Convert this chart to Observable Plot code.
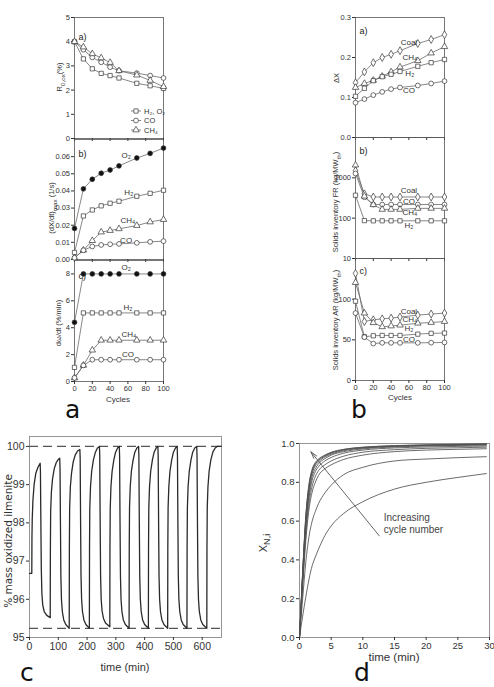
<!DOCTYPE html>
<html><head><meta charset="utf-8">
<script src="https://cdn.jsdelivr.net/npm/d3@7"></script>
<script src="https://cdn.jsdelivr.net/npm/@observablehq/plot@0.6"></script>
<style>
html,body{margin:0;padding:0;background:#fff;}
#fig{position:relative;width:494px;height:687px;overflow:hidden;background:#fff;font-family:'Liberation Sans Narrow','Liberation Sans',Arial,sans-serif;color:#333;}
.t{position:absolute;white-space:nowrap;line-height:1;}
.rot{transform:translate(-50%,-50%) rotate(-90deg);}
.ctr{transform:translate(-50%,-50%);}
.big{position:absolute;font-family:'DejaVu Sans',Verdana,sans-serif;font-size:25px;line-height:1;color:#111;}
</style></head><body><div id="fig"></div>
<script>
// ---------- data ----------
const cycles = [0, 10, 20, 30, 40, 50, 70, 85, 100];

const a1H2O2 = [4.0, 3.29, 2.88, 2.69, 2.6, 2.5, 2.28, 2.18, 2.07];
const a1CO   = [4.0, 3.67, 3.35, 3.15, 2.95, 2.8, 2.7, 2.6, 2.5];
const a1CH4  = [4.0, 3.78, 3.5, 3.33, 3.14, 2.8, 2.62, 2.4, 2.14];
const a2O2  = [0.0181, 0.0412, 0.0468, 0.0503, 0.0522, 0.0546, 0.0592, 0.0619, 0.065];
const a2H2  = [0.0041, 0.0254, 0.0289, 0.0313, 0.0328, 0.034, 0.0369, 0.0386, 0.0404];
const a2CH4 = [0.001, 0.0054, 0.011, 0.016, 0.0169, 0.0179, 0.0198, 0.0219, 0.0233];
const a2CO  = [0.001, 0.0054, 0.0076, 0.0085, 0.0089, 0.0091, 0.0097, 0.0103, 0.0107];
const a3O2  = [4.4, 8, 8, 8, 8, 8, 8, 8, 8];
const a3H2  = [1.05, 5.1, 5.1, 5.1, 5.1, 5.1, 5.1, 5.1, 5.1];
const a3CH4 = [0.27, 1.2, 2.33, 3.07, 3.07, 3.07, 3.07, 3.07, 3.07];
const a3CO  = [0.27, 1.2, 1.62, 1.62, 1.62, 1.62, 1.62, 1.62, 1.62];
const b1Coal = [0.137, 0.164, 0.187, 0.2, 0.208, 0.217, 0.235, 0.245, 0.257];
const b1CH4  = [0.125, 0.135, 0.143, 0.153, 0.164, 0.176, 0.192, 0.211, 0.227];
const b1H2   = [0.103, 0.123, 0.142, 0.152, 0.158, 0.165, 0.178, 0.187, 0.195];
const b1CO   = [0.087, 0.096, 0.106, 0.114, 0.121, 0.125, 0.13, 0.135, 0.141];
const b2Coal = [1500, 400, 335, 335, 335, 335, 335, 335, 335];
const b2CO   = [1280, 330, 218, 218, 218, 218, 218, 218, 218];
const b2CH4  = [2070, 350, 215, 165, 165, 165, 175, 175, 175];
const b2H2   = [370, 87, 86, 86, 86, 86, 86, 86, 86];
const b3Coal = [131.7, 72.5, 74.6, 75.8, 76.7, 78, 80.4, 81.7, 82.9];
const b3CH4  = [120.4, 82.9, 71, 66, 67, 68, 70.4, 71.3, 72.5];
const b3H2   = [97.5, 53.8, 55, 55.4, 55.4, 55.4, 57, 58, 58.3];
const b3CO   = [82.9, 53.3, 45.4, 46.3, 46.3, 46.3, 46.3, 46.5, 46.8];

const a2Labels = [{t:"O₂", c:58, v:0.0605},{t:"H₂", c:61, v:0.039},{t:"CH₄", c:60, v:0.0227},{t:"CO", c:58, v:0.0114}];
const a3Labels = [{t:"O₂", c:58, v:8.5},{t:"H₂", c:60, v:5.5},{t:"CH₄", c:61, v:3.5},{t:"CO", c:60, v:2.0}];
const b1Labels = [{t:"Coal", c:60, v:0.238},{t:"CH₄", c:61, v:0.2},{t:"H₂", c:61, v:0.161},{t:"CO", c:60, v:0.117}];
const b2Labels = [{t:"Coal", c:60, v:500},{t:"CO", c:60, v:262},{t:"CH₄", c:61, v:138},{t:"H₂", c:60, v:66}];
const b3Labels = [{t:"Coal", c:60, v:85},{t:"CH₄", c:61, v:75},{t:"H₂", c:60, v:63.5},{t:"CO", c:60, v:51}];

const cTime = [0,8,8.5,9.5,12,16,22,29,37, 38,39.5,41,43,46,51,60,72,
  72.5,73.5,76,80,86,93,99,105, 106,107.5,109,111,114,119,126,138,
  138.5,139.5,142,146,152,159,167,175, 176,177.5,179,181,184,189,196,208,
  208.5,209.5,212,216,222,229,236,243, 244,245.5,247,249,252,257,264,279,
  279.5,280.5,283,287,293,299,306,312, 313,314.5,316,318,321,326,333,346,
  346.5,347.5,350,354,360,366,373,379, 380,381.5,383,385,388,393,400,413,
  413.5,414.5,417,421,427,433,440,446, 447,448.5,450,452,455,460,467,480,
  480.5,481.5,484,488,494,500,507,513, 514,515.5,517,519,522,527,534,547,
  547.5,548.5,551,555,561,567,574,581, 582,583.5,585,587,590,595,602,616,
  616.5,617.5,620,624,630,637,645,652,666];
const cMass = [96.68,96.68,97.6,98.1,98.6,99.0,99.3,99.45,99.56, 99.35,98.0,96.8,96.15,95.85,95.68,95.58,95.52,
  97.2,98.3,98.8,99.15,99.42,99.58,99.65,99.69, 99.45,98.0,96.6,96.0,95.68,95.46,95.34,95.24,
  97.3,98.4,98.95,99.3,99.6,99.78,99.88,99.92, 99.7,98.0,96.6,96.0,95.68,95.46,95.34,95.24,
  97.3,98.4,98.95,99.35,99.65,99.85,99.96,100, 99.75,98.0,96.6,96.0,95.7,95.5,95.38,95.28,
  97.3,98.4,98.95,99.35,99.65,99.85,99.96,100, 99.75,98.0,96.6,96.0,95.68,95.46,95.34,95.24,
  97.3,98.4,98.95,99.35,99.65,99.85,99.96,100, 99.75,98.0,96.6,96.0,95.68,95.46,95.34,95.24,
  97.3,98.4,98.95,99.35,99.65,99.85,99.96,100, 99.75,98.0,96.6,96.0,95.68,95.46,95.34,95.24,
  97.3,98.4,98.95,99.35,99.65,99.85,99.96,100, 99.75,98.0,96.6,96.0,95.68,95.46,95.34,95.24,
  97.3,98.4,98.95,99.35,99.65,99.85,99.96,100, 99.75,98.0,96.6,96.0,95.68,95.46,95.34,95.24,
  97.3,98.4,98.95,99.35,99.65,99.85,99.96,100,100];
const cLimits = [100, 95.24];

const dTime = [0,0.5,1,1.5,2,2.5,3,4,5,7,10,15,20,25,29.5];
const dCurves = [
  [0,0.11,0.21,0.30,0.37,0.415,0.455,0.525,0.575,0.64,0.70,0.765,0.80,0.825,0.845],
  [0,0.20,0.39,0.52,0.60,0.65,0.69,0.745,0.785,0.84,0.877,0.91,0.92,0.927,0.932],
  [0,0.26,0.50,0.66,0.75,0.80,0.835,0.87,0.89,0.918,0.94,0.958,0.966,0.97,0.973],
  [0,0.28,0.53,0.69,0.78,0.83,0.86,0.89,0.91,0.935,0.955,0.968,0.975,0.978,0.981],
  [0,0.30,0.56,0.72,0.81,0.855,0.88,0.91,0.928,0.95,0.966,0.977,0.982,0.985,0.987],
  [0,0.31,0.58,0.74,0.83,0.87,0.895,0.922,0.94,0.958,0.972,0.982,0.987,0.99,0.992],
  [0,0.32,0.60,0.76,0.845,0.885,0.905,0.93,0.945,0.963,0.976,0.985,0.99,0.992,0.994],
  [0,0.33,0.61,0.775,0.855,0.893,0.912,0.935,0.95,0.967,0.978,0.987,0.991,0.994,0.996],
  [0,0.335,0.62,0.785,0.862,0.898,0.916,0.938,0.952,0.969,0.98,0.988,0.992,0.995,0.997],
  [0,0.34,0.63,0.79,0.868,0.902,0.92,0.94,0.955,0.97,0.981,0.989,0.993,0.996,0.998]
];
const dArrow = [{x1:12.6, y1:0.524, x2:1.8, y2:0.957}];
const dNote = [{t:13.3, v:0.589, text:"Increasing\ncycle number"}];

// ---------- helpers ----------
const fig = document.getElementById('fig');
const NARROW = "'Liberation Sans Narrow','Liberation Sans',Arial,sans-serif";
const REG = "'Liberation Sans',Arial,sans-serif";

function mkPlot(frame, m, opts, fontSize, family){
  const [x0,y0,x1,y1] = frame;
  const [mt,mr,mb,ml] = m;
  const svg = Plot.plot({
    width: x1-x0+ml+mr, height: y1-y0+mt+mb,
    marginTop: mt, marginRight: mr, marginBottom: mb, marginLeft: ml,
    style: {background:"transparent", fontFamily: family||NARROW, fontSize:(fontSize||7.5)+"px", color:"#333", overflow:"visible"},
    ...opts
  });
  svg.style.position="absolute"; svg.style.left=(x0-ml)+"px"; svg.style.top=(y0-mt)+"px";
  fig.appendChild(svg);
  return svg;
}
function seriesMarks(series){
  const rows = series.flatMap(s => cycles.map((c,i)=>({c, v:s.values[i], name:s.name})));
  return [
    Plot.line(rows,{x:"c",y:"v",z:"name",stroke:"#6a6a6a",strokeWidth:0.8}),
    ...series.map(s=>Plot.dot(rows.filter(r=>r.name===s.name),{x:"c",y:"v",symbol:s.symbol,r:2.4,fill:s.fill||"white",stroke:"#333",strokeWidth:0.7}))
  ];
}
function panelTag(txt, dy){
  return Plot.text([txt],{frameAnchor:"top-left",dx:4,dy,text:d=>d,textAnchor:"start",fontFamily:REG,fontSize:9,fill:"#222"});
}
function curveLabels(labels){
  return Plot.text(labels,{x:"c",y:"v",text:"t",fontSize:8,fill:"#333"});
}
function title(html, cx, cy, size, rot, family){
  const d=document.createElement('div'); d.className='t '+(rot?'rot':'ctr');
  d.style.left=cx+'px'; d.style.top=cy+'px'; d.style.fontSize=size+'px';
  if(family) d.style.fontFamily=family; d.innerHTML=html; fig.appendChild(d);
}
function bigLetter(ch, left, baseline){
  const d=document.createElement('div'); d.className='big'; d.textContent=ch;
  d.style.left=left+'px'; d.style.top=(baseline-0.846*25)+'px'; fig.appendChild(d);
}
const cycTicks=[0,20,40,60,80,100];
const xNoLab = Plot.axisX({ticks:cycTicks,tickSize:3,tickFormat:()=>"",label:null});
const xLab = Plot.axisX({ticks:cycTicks,tickSize:3,tickPadding:1,label:null});
const frameA = Plot.frame({stroke:"#555",strokeWidth:0.8});

// ---------- panel a ----------
mkPlot([74,17,163,138],[2,6,4,22],{
  x:{domain:[0,100]}, y:{domain:[0,5]},
  marks:[frameA, Plot.axisY({ticks:[0,1,2,3,4,5],tickFormat:d=>String(d),tickSize:3,tickPadding:1.5,label:null}), xNoLab,
    ...seriesMarks([{name:"H2,O2",values:a1H2O2,symbol:"square"},{name:"CO",values:a1CO,symbol:"circle"},{name:"CH4",values:a1CH4,symbol:"triangle"}]),
    panelTag("a)",16)]
});
mkPlot([74,139,163,259],[2,6,4,22],{
  x:{domain:[0,100]}, y:{domain:[0,0.07]},
  marks:[frameA, Plot.axisY({ticks:[0,0.01,0.02,0.03,0.04,0.05,0.06],tickFormat:d3.format(".2f"),tickSize:3,tickPadding:1.5,label:null}), xNoLab,
    ...seriesMarks([{name:"O2",values:a2O2,symbol:"circle",fill:"#111"},{name:"H2",values:a2H2,symbol:"square"},{name:"CH4",values:a2CH4,symbol:"triangle"},{name:"CO",values:a2CO,symbol:"circle"}]),
    curveLabels(a2Labels), panelTag("b)",11)]
});
mkPlot([74,260,163,381],[2,6,16,22],{
  x:{domain:[0,100]}, y:{domain:[0,9]},
  marks:[frameA, Plot.axisY({ticks:[0,2,4,6,8],tickFormat:d=>String(d),tickSize:3,tickPadding:1.5,label:null}), xLab,
    ...seriesMarks([{name:"O2",values:a3O2,symbol:"circle",fill:"#111"},{name:"H2",values:a3H2,symbol:"square"},{name:"CH4",values:a3CH4,symbol:"triangle"},{name:"CO",values:a3CO,symbol:"circle"}]),
    curveLabels(a3Labels), panelTag("c)",12)]
});
title("R<sub>0,ox</sub>(%)",61,77,7.5,true);
title("(dX/dt)<sub>max</sub> (1/s)",53,208,7.5,true);
title("dω/dt (%/min)",59,323,7.5,true);
title("Cycles",118,400,8,false);

(function(){
  const items=[{t:"H₂, O₂",s:d3.symbolSquare},{t:"CO",s:d3.symbolCircle},{t:"CH₄",s:d3.symbolTriangle}];
  const lg=d3.create("svg").attr("width",40).attr("height",34)
    .style("position","absolute").style("left","128px").style("top","104px").style("overflow","visible");
  items.forEach((it,i)=>{
    const y=7+i*9.5;
    lg.append("line").attr("x1",3).attr("x2",13).attr("y1",y).attr("y2",y).attr("stroke","#666").attr("stroke-width",0.8);
    lg.append("path").attr("d",d3.symbol(it.s,Math.PI*2.4*2.4)()).attr("transform",`translate(8,${y})`).attr("fill","white").attr("stroke","#333").attr("stroke-width",0.7);
    lg.append("text").attr("x",16).attr("y",y).attr("dy","0.35em").attr("font-size",7.5).attr("font-family",NARROW).attr("fill","#333").text(it.t);
  });
  fig.appendChild(lg.node());
})();

// ---------- panel b ----------
mkPlot([355,17,444,137],[2,6,4,22],{
  x:{domain:[0,100]}, y:{domain:[0,0.3]},
  marks:[frameA, Plot.axisY({ticks:[0,0.1,0.2,0.3],tickFormat:d3.format(".1f"),tickSize:3,tickPadding:1.5,label:null}), xNoLab,
    ...seriesMarks([{name:"Coal",values:b1Coal,symbol:"diamond"},{name:"CH4",values:b1CH4,symbol:"triangle"},{name:"H2",values:b1H2,symbol:"square"},{name:"CO",values:b1CO,symbol:"circle"}]),
    curveLabels(b1Labels), panelTag("a)",10)]
});
mkPlot([355,137,444,258],[2,6,4,22],{
  x:{domain:[0,100]}, y:{type:"log",domain:[10,10000]},
  marks:[frameA, Plot.axisY({ticks:[10,100,1000],tickFormat:d=>String(d),tickSize:3,tickPadding:1.5,label:null}), xNoLab,
    ...seriesMarks([{name:"Coal",values:b2Coal,symbol:"diamond"},{name:"CO",values:b2CO,symbol:"circle"},{name:"CH4",values:b2CH4,symbol:"triangle"},{name:"H2",values:b2H2,symbol:"square"}]),
    curveLabels(b2Labels), panelTag("b)",10)]
});
mkPlot([355,258,444,380],[2,6,16,22],{
  x:{domain:[0,100]}, y:{domain:[0,150]},
  marks:[frameA, Plot.axisY({ticks:[0,50,100],tickFormat:d=>String(d),tickSize:3,tickPadding:1.5,label:null}), xLab,
    ...seriesMarks([{name:"Coal",values:b3Coal,symbol:"diamond"},{name:"CH4",values:b3CH4,symbol:"triangle"},{name:"H2",values:b3H2,symbol:"square"},{name:"CO",values:b3CO,symbol:"circle"}]),
    curveLabels(b3Labels), panelTag("c)",9)]
});
title("ΔX",337,78,7.5,true);
title("Solids inventory FR (kg/MW<sub>th</sub>)",337,202,7.5,true);
title("Solids inventory AR (kg/MW<sub>th</sub>)",337,320,7.5,true);
title("Cycles",400,398,8,false);

// ---------- panel c ----------
const cRows = cTime.map((t,i)=>({t, v:cMass[i]}));
mkPlot([29,436,221,637],[4,8,24,28],{
  x:{domain:[0,667]}, y:{domain:[95,100.26]},
  marks:[
    Plot.frame({stroke:"#8a8a8a",strokeWidth:0.9}),
    Plot.ruleY(cLimits,{stroke:"#555",strokeWidth:1.3,strokeDasharray:"9,5"}),
    Plot.line(cRows,{x:"t",y:"v",stroke:"#2a2a2a",strokeWidth:1.3}),
    Plot.axisY({ticks:[95,96,97,98,99,100],tickFormat:d=>String(d),tickSize:3,tickPadding:2,label:null}),
    Plot.axisX({ticks:[0,100,200,300,400,500,600],tickFormat:d=>String(d),tickSize:3,tickPadding:2,label:null})
  ]
},10.5);
title("% mass oxidized ilmenite",8,541,10.5,true,"'DejaVu Sans',Verdana,sans-serif");
title("time (min)",125,667,11,false);

// ---------- panel d ----------
const dRows = dCurves.flatMap((vals,k)=>dTime.map((t,i)=>({t, x:vals[i], cycle:k+1})));
mkPlot([299,443,489,637],[4,8,24,24],{
  x:{domain:[0,30]}, y:{domain:[0,1]},
  marks:[
    Plot.frame({stroke:"#8a8a8a",strokeWidth:0.9}),
    Plot.line(dRows,{x:"t",y:"x",z:"cycle",stroke:"#505050",strokeWidth:0.85,curve:"monotone-x"}),
    Plot.arrow(dArrow,{x1:"x1",y1:"y1",x2:"x2",y2:"y2",stroke:"#555",strokeWidth:0.9,headLength:12,headAngle:30}),
    Plot.text(dNote,{x:"t",y:"v",text:"text",textAnchor:"start",lineAnchor:"middle",lineHeight:1.2,fontSize:10,fill:"#444",fontFamily:REG}),
    Plot.axisY({ticks:[0,0.2,0.4,0.6,0.8,1],tickFormat:d3.format(".1f"),tickSize:3,tickPadding:2,label:null}),
    Plot.axisX({ticks:[0,5,10,15,20,25,30],tickFormat:d=>String(d),tickSize:3,tickPadding:2,label:null})
  ]
},9.5,REG);
title("X<sub>N,i</sub>",265,543,11,true,REG);
title("time (min)",394,658,11.5,false,REG);

bigLetter("a",65,418);
bigLetter("b",351,418);
bigLetter("c",20,681);
bigLetter("d",354,681);
</script></body></html>
